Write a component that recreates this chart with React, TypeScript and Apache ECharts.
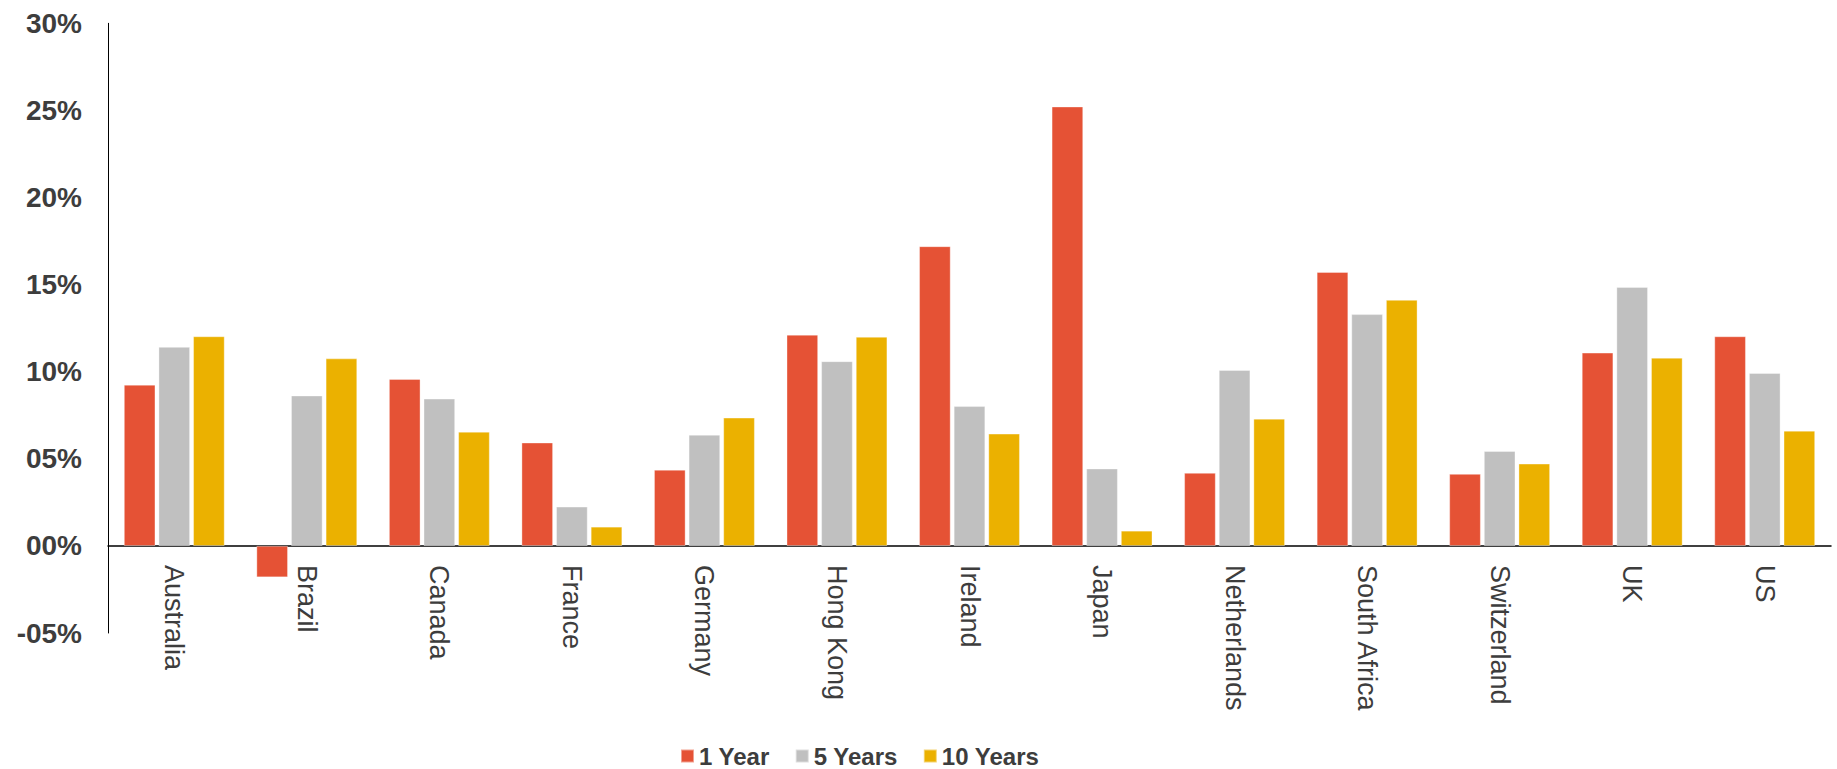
import React, { useEffect, useRef } from "react";
import * as echarts from "echarts";

// Annualised returns by market, in percent
const countries = [
  "Australia", "Brazil", "Canada", "France", "Germany", "Hong Kong", "Ireland",
  "Japan", "Netherlands", "South Africa", "Switzerland", "UK", "US",
];
const oneYear = [9.25, -1.8, 9.58, 5.93, 4.37, 12.12, 17.2, 25.22, 4.19, 15.72, 4.13, 11.09, 12.03];
const fiveYears = [11.42, 8.63, 8.45, 2.25, 6.38, 10.6, 8.02, 4.44, 10.09, 13.3, 5.44, 14.86, 9.92];
const tenYears = [12.03, 10.76, 6.55, 1.1, 7.36, 12.0, 6.44, 0.87, 7.3, 14.12, 4.72, 10.8, 6.61];

const seriesNames = ["1 Year", "5 Years", "10 Years"];
const seriesColors = ["#E55235", "#C0C0C0", "#EBB100"];

const FONT = "'Liberation Sans', Arial, sans-serif";
const TEXT = "#3d3d3d";

function pct(v: number): string {
  const sign = v < 0 ? "-" : "";
  return sign + String(Math.abs(v)).padStart(2, "0") + "%";
}

export default function App() {
  const ref = useRef<HTMLDivElement>(null);

  useEffect(() => {
    if (!ref.current) return;
    const chart = echarts.init(ref.current, null, { renderer: "svg" });
    const values = [oneYear, fiveYears, tenYears];
    chart.setOption({
      animation: false,
      backgroundColor: "#ffffff",
      grid: {
        left: 108,
        right: 6,
        top: 23.3,
        bottom: 136,
        containLabel: false,
        outerBoundsMode: "none",
      },
      legend: {
        data: seriesNames,
        top: 744,
        left: 680,
        padding: 0,
        itemWidth: 13,
        itemHeight: 13,
        itemGap: 25,
        icon: "rect",
        textStyle: { fontFamily: FONT, fontSize: 24, fontWeight: "bold", color: TEXT },
      },
      xAxis: {
        type: "category",
        data: countries,
        axisLine: { show: true, onZero: true, lineStyle: { color: "#000", width: 1.5 } },
        axisTick: { show: false },
        axisLabel: {
          rotate: -90,
          // labels hang just under the zero line, above the bottom of the plot
          margin: -68,
          interval: 0,
          fontFamily: FONT,
          fontSize: 27,
          color: TEXT,
          overflow: "none",
          width: 300,
        },
        splitLine: { show: false },
      },
      yAxis: {
        type: "value",
        min: -5,
        max: 30,
        interval: 5,
        axisLine: { show: true, lineStyle: { color: "#000", width: 1 } },
        axisTick: { show: false },
        splitLine: { show: false },
        axisLabel: {
          margin: 26,
          formatter: (v: number) => pct(v),
          fontFamily: FONT,
          fontSize: 28,
          fontWeight: "bold",
          color: TEXT,
        },
      },
      series: seriesNames.map((name, i) => ({
        name,
        type: "bar",
        data: values[i],
        barCategoryGap: "24%",
        barGap: "10%",
        itemStyle: {
          color: seriesColors[i],
          borderColor: "rgba(255,255,255,0.45)",
          borderWidth: 0.8,
        },
      })),
    });
    return () => chart.dispose();
  }, []);

  return (
    <div
      ref={ref}
      style={{ position: "fixed", left: 0, top: 0, width: 1837, height: 769, background: "#fff" }}
    />
  );
}
